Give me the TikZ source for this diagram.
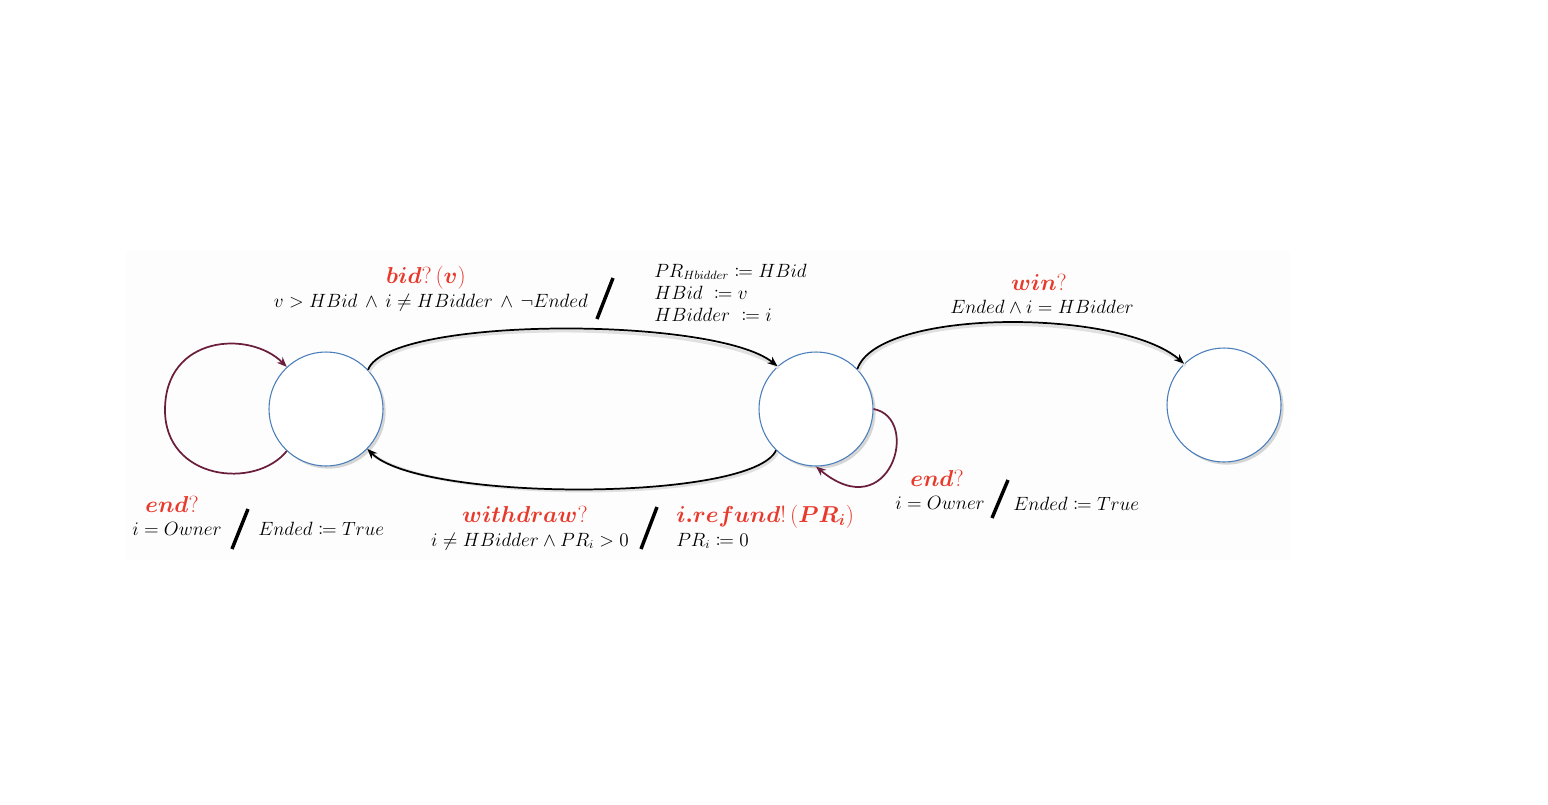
\documentclass[tikz,border=0pt]{standalone}
\usepackage{amsmath,amssymb,mathtools,bm}
\usetikzlibrary{arrows.meta,shadows}
\definecolor{lblred}{HTML}{E8392B}
\definecolor{loopc}{HTML}{6A1E3C}
\definecolor{circc}{HTML}{4A7EBB}
\definecolor{bgc}{HTML}{FDFDFD}
\tikzset{
  state/.style={circle, draw=circc, line width=0.8pt, fill=white, minimum size=85.5pt, inner sep=0pt,
    drop shadow={shadow xshift=2pt, shadow yshift=-2pt, opacity=0.22, fill=black!70}},
  trans/.style={line width=1.3pt, draw=black, -{Stealth[length=7.5pt,width=6pt]},
    preaction={draw=black!12, line width=2.2pt, transform canvas={xshift=1pt,yshift=-1.5pt}, -}},
  selfloop/.style={line width=1.3pt, draw=loopc, -{Stealth[length=7.5pt,width=6pt]}},
  guard/.style={font=\fontsize{13.5}{16}\selectfont, inner sep=0pt, text=black},
  evt/.style={font=\fontsize{17.5}{20}\selectfont, inner sep=0pt, text=lblred},
  slash/.style={line width=2.6pt, draw=black}
}
\newcommand{\bi}[1]{\boldsymbol{#1}}
\begin{document}
\begin{tikzpicture}[x=0.75pt,y=-0.75pt]
\useasboundingbox (0,0) rectangle (1548,804);
\fill[bgc] (126,251) rectangle (1290,560);

% states
\node[state] (s1) at (326,409) {};
\node[state] (s2) at (816,409) {};
\node[state] (s3) at (1224,405) {};

% transitions
\draw[trans] (s1.43) .. controls (388,316) and (715,316) .. (s2.132);
\draw[trans] (s2.226) .. controls (752,502) and (420,502) .. (s1.316);
\draw[trans] (s2.44) .. controls (878,308) and (1120,308) .. (s3.134);

% self loops
\draw[selfloop] (s1.227) .. controls (255,490) and (165,480) .. (165,410)
   .. controls (165,335) and (250,330) .. (s1.133);
\draw[selfloop] (s2.0) .. controls (922,418) and (890,528) .. (s2.270);

% bid label
\node[evt, anchor=base] (bidev) at (426,283) {$\bi{bid}\text{?}\,(\bi{v})$};
\node[guard, anchor=base] (bidg) at (431,307) {$v > HBid\,\land\, i \neq HBidder\,\land\, \neg Ended$};
\coordinate (bs1) at (597,319); \coordinate (bs2) at (613,278);
\draw[slash] (bs1) -- (bs2);
\node[guard, anchor=base west] (bida1) at (654,277) {$PR_{Hbidder} \coloneqq HBid$};
\node[guard, anchor=base west] (bida2) at (654,299) {$HBid\ \coloneqq v$};
\node[guard, anchor=base west] (bida3) at (654,321) {$HBidder\ \coloneqq i$};

% win label
\node[evt, anchor=base] (winev) at (1039,290) {$\bi{win}\text{?}$};
\node[guard, anchor=base] (wing) at (1042,313) {$Ended \land i = HBidder$};

% end (left)
\node[evt, anchor=base] (end1ev) at (172,512) {$\bi{end}\text{?}$};
\node[guard, anchor=base] (end1g) at (177,535) {$i = Owner$};
\coordinate (es1) at (232,549); \coordinate (es2) at (248,509);
\draw[slash] (es1) -- (es2);
\node[guard, anchor=base west] (end1a) at (258,535) {$Ended \coloneqq True$};

% withdraw
\node[evt, anchor=base] (wdev) at (525,522) {$\bi{withdraw}\text{?}$};
\node[guard, anchor=base] (wdg) at (530,546) {$i \neq HBidder \land PR_i > 0$};
\coordinate (ws1) at (641,549); \coordinate (ws2) at (657,507);
\draw[slash] (ws1) -- (ws2);
\node[evt, anchor=base west] (wdev2) at (676,522) {$\bi{i.refund}\text{!}\,(\bi{PR_i})$};
\node[guard, anchor=base west] (wda) at (676,546) {$PR_i \coloneqq 0$};

% end (right)
\node[evt, anchor=base] (end2ev) at (937,486) {$\bi{end}\text{?}$};
\node[guard, anchor=base] (end2g) at (940,509) {$i = Owner$};
\coordinate (fs1) at (992,518); \coordinate (fs2) at (1008,480);
\draw[slash] (fs1) -- (fs2);
\node[guard, anchor=base west] (end2a) at (1013,510) {$Ended \coloneqq True$};
\end{tikzpicture}
\end{document}
